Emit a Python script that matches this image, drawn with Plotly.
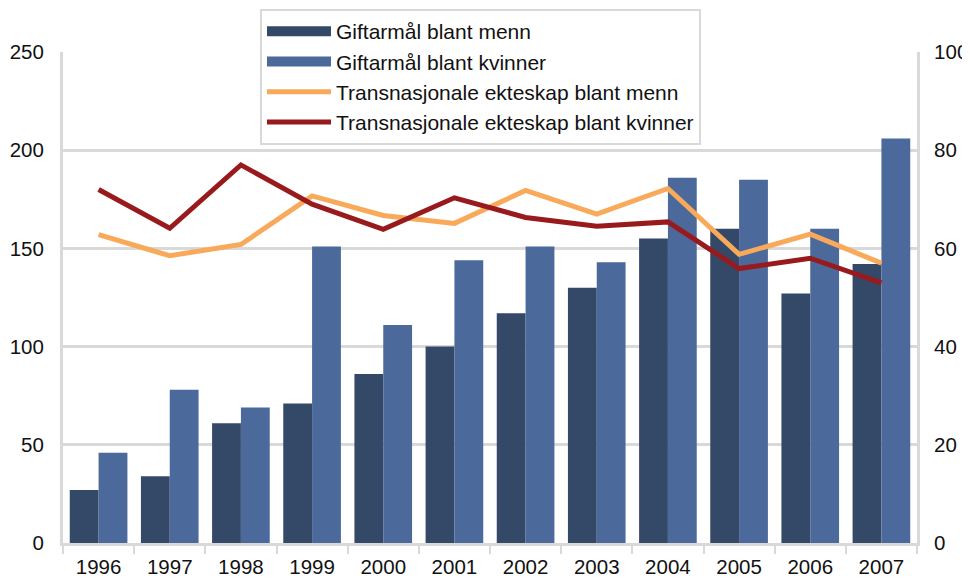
import plotly.graph_objects as go

years = ["1996", "1997", "1998", "1999", "2000", "2001", "2002", "2003", "2004", "2005", "2006", "2007"]
gift_menn = [27, 34, 61, 71, 86, 100, 117, 130, 155, 160, 127, 142]
gift_kvinner = [46, 78, 69, 151, 111, 144, 151, 143, 186, 185, 160, 206]
trans_menn = [62.8, 58.5, 60.8, 70.7, 66.7, 65.1, 71.8, 67.0, 72.2, 58.8, 62.9, 57.0]
trans_kvinner = [72.0, 64.1, 77.0, 69.0, 63.9, 70.3, 66.3, 64.5, 65.4, 55.9, 58.0, 53.0]

names = ["Giftarmål blant menn", "Giftarmål blant kvinner",
         "Transnasjonale ekteskap blant menn", "Transnasjonale ekteskap blant kvinner"]

C_MENN = "#344868"
C_KVIN = "#4B6A9B"
C_TM = "#F9A95A"
C_TK = "#981A1D"
GRID = "#D9D9D9"
FONT = "Arial, Liberation Sans, sans-serif"

# The page body has an 8px default margin, so the figure is sized to end at the window edge.
W, H = 962, 570

fig = go.Figure()
fig.add_trace(go.Bar(x=years, y=gift_menn, name=names[0], marker=dict(color=C_MENN, line=dict(width=0)),
                     showlegend=False))
fig.add_trace(go.Bar(x=years, y=gift_kvinner, name=names[1], marker=dict(color=C_KVIN, line=dict(width=0)),
                     showlegend=False))
# legend keys for the bars (wide rectangles, as in the original)
fig.add_trace(go.Scatter(x=[None], y=[None], name=names[0], mode="lines",
                         line=dict(color=C_MENN, width=12), showlegend=True))
fig.add_trace(go.Scatter(x=[None], y=[None], name=names[1], mode="lines",
                         line=dict(color=C_KVIN, width=12), showlegend=True))
fig.add_trace(go.Scatter(x=years, y=trans_menn, name=names[2], mode="lines", yaxis="y2",
                         line=dict(color=C_TM, width=5)))
fig.add_trace(go.Scatter(x=years, y=trans_kvinner, name=names[3], mode="lines", yaxis="y2",
                         line=dict(color=C_TK, width=5)))

fig.update_layout(
    width=W, height=H,
    margin=dict(l=55, r=53, t=44, b=35, autoexpand=False),
    paper_bgcolor="white", plot_bgcolor="white",
    font=dict(family=FONT, size=20.5, color="#111111"),
    barmode="group", bargap=0.19, bargroupgap=0,
    showlegend=True,
    legend=dict(xref="container", yref="container", x=252 / W, y=1 - 1 / H,
                xanchor="left", yanchor="top",
                bgcolor="white", bordercolor=GRID, borderwidth=2,
                font=dict(family=FONT, size=21, color="#111111"),
                traceorder="normal", itemwidth=64),
    xaxis=dict(type="category", showline=True, linecolor=GRID, linewidth=3,
               ticks="outside", tickson="boundaries", ticklen=8, tickwidth=2, tickcolor=GRID,
               showgrid=False, ticklabelstandoff=3, automargin=False),
    yaxis=dict(range=[0, 250], dtick=50, showgrid=True, gridcolor=GRID, gridwidth=3,
               showline=True, linecolor=GRID, linewidth=3, ticks="", zeroline=False,
               ticklabelstandoff=12, automargin=False),
    yaxis2=dict(range=[0, 100], dtick=20, overlaying="y", side="right", showgrid=False,
                showline=True, linecolor=GRID, linewidth=3, ticks="", zeroline=False,
                ticklabelstandoff=10, automargin=False),
)

fig.write_html("out.html")
